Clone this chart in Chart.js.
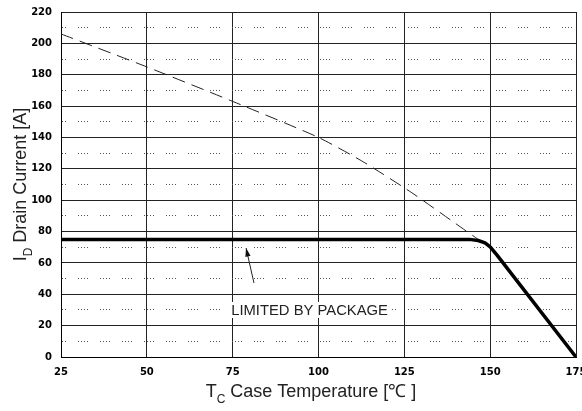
<!DOCTYPE html>
<html><head><meta charset="utf-8">
<script src="https://cdn.jsdelivr.net/npm/chart.js@4/dist/chart.umd.min.js"></script>
<style>html,body{margin:0;padding:0;background:#fff}#c{display:block}</style>
</head><body>
<canvas id="c" width="582" height="411"></canvas>
<script>
// ---- data ----
const xTickValues = [25, 50, 75, 100, 125, 150, 175];
const yTickValues = [0, 20, 40, 60, 80, 100, 120, 140, 160, 180, 200, 220];
const limitedT = [25, 144, 146.5, 148.5, 150, 152, 175];
const limitedI = [75, 75, 74.3, 72.8, 70.2, 65, 0];
const siliconT = [25, 50, 75, 100, 113, 127, 140, 146.5];
const siliconI = [206, 185, 163, 140, 124.5, 105, 85, 75];
const xTitle = ['T', 'C', ' Case Temperature [\u2103 ]'];
const yTitle = ['I', 'D', ' Drain Current [A]'];
const noteText = 'LIMITED BY PACKAGE';
const notePos = [97.4, 30];
const arrowFrom = [81.2, 47.2];
const arrowTo = [78.9, 69.5];

const tickFont = {family: 'DejaVu Sans', size: 10, weight: 'bold'};

function drawSubTitle(ctx, parts) {
  const big = '18px "Liberation Sans", Arial, sans-serif';
  const small = '12px "Liberation Sans", Arial, sans-serif';
  ctx.font = big; const w0 = ctx.measureText(parts[0]).width;
  const w2 = ctx.measureText(parts[2]).width;
  ctx.font = small; const w1 = ctx.measureText(parts[1]).width;
  const total = w0 + w1 + w2;
  let x = -total / 2;
  ctx.fillStyle = '#222'; ctx.textBaseline = 'alphabetic'; ctx.textAlign = 'left';
  ctx.font = big; ctx.fillText(parts[0], x, 0); x += w0;
  ctx.font = small; ctx.fillText(parts[1], x, 6); x += w1;
  ctx.font = big; ctx.fillText(parts[2], x, 0);
}

const titlesPlugin = {
  id: 'titles',
  afterDraw(chart) {
    const ctx = chart.ctx; const a = chart.chartArea;
    ctx.save();
    ctx.translate(311, 397);
    drawSubTitle(ctx, xTitle);
    ctx.restore();
    ctx.save();
    ctx.translate(26, (a.top + a.bottom) / 2);
    ctx.rotate(-Math.PI / 2);
    drawSubTitle(ctx, yTitle);
    ctx.restore();
  }
};

const notePlugin = {
  id: 'note',
  afterDatasetsDraw(chart) {
    const ctx = chart.ctx; const xs = chart.scales.x, ys = chart.scales.y;
    ctx.save();
    ctx.font = '14.8px "Liberation Sans", Arial, sans-serif';
    const tx = xs.getPixelForValue(notePos[0]), ty = ys.getPixelForValue(notePos[1]);
    const w = ctx.measureText(noteText).width;
    ctx.fillStyle = '#fff';
    ctx.fillRect(tx - w / 2 - 2, ty - 8, w + 4, 16);
    ctx.fillStyle = '#222'; ctx.textAlign = 'center'; ctx.textBaseline = 'middle';
    ctx.fillText(noteText, tx, ty + 1);
    // arrow
    const x1 = xs.getPixelForValue(arrowFrom[0]), y1 = ys.getPixelForValue(arrowFrom[1]);
    const x2 = xs.getPixelForValue(arrowTo[0]), y2 = ys.getPixelForValue(arrowTo[1]);
    ctx.strokeStyle = '#222'; ctx.lineWidth = 1;
    ctx.beginPath(); ctx.moveTo(x1, y1); ctx.lineTo(x2, y2); ctx.stroke();
    const ang = Math.atan2(y2 - y1, x2 - x1), L = 9, H = 0.3;
    ctx.fillStyle = '#111';
    ctx.beginPath(); ctx.moveTo(x2, y2);
    ctx.lineTo(x2 - L * Math.cos(ang - H), y2 - L * Math.sin(ang - H));
    ctx.lineTo(x2 - L * Math.cos(ang + H), y2 - L * Math.sin(ang + H));
    ctx.closePath(); ctx.fill();
    ctx.restore();
  }
};

new Chart(document.getElementById('c'), {
  type: 'line',
  data: {
    datasets: [
      {
        data: limitedT.map((t, i) => ({x: t, y: limitedI[i]})),
        borderColor: '#000', borderWidth: 3.5, pointRadius: 0,
        borderJoinStyle: 'round', tension: 0, fill: false
      },
      {
        data: siliconT.map((t, i) => ({x: t, y: siliconI[i]})),
        borderColor: '#222', borderWidth: 1, borderDash: [13, 7], pointRadius: 0,
        tension: 0.2, fill: false
      }
    ]
  },
  options: {
    responsive: false, animation: false, devicePixelRatio: 1,
    layout: {padding: {top: 12, right: 6, left: 0, bottom: 0}},
    plugins: {legend: {display: false}, tooltip: {enabled: false}, title: {display: false}},
    scales: {
      x: {
        type: 'linear', min: 25, max: 175,
        afterBuildTicks: s => { s.ticks = xTickValues.map(v => ({value: v})); },
        ticks: {font: tickFont, color: '#000', padding: 9, maxRotation: 0, autoSkip: false},
        grid: {color: '#222', lineWidth: 1, drawTicks: false},
        border: {color: '#000', width: 1},
        afterFit: s => { s.height = 54; s.paddingLeft = 0; s.paddingRight = 0; }
      },
      y: {
        type: 'linear', min: 0, max: 220,
        afterBuildTicks: s => { s.ticks = yTickValues.map(v => ({value: v})); },
        ticks: {font: tickFont, color: '#000', padding: 9, autoSkip: false},
        grid: {color: '#222', lineWidth: 1, drawTicks: false},
        border: {color: '#000', width: 1},
        afterFit: s => { s.width = 61; s.paddingTop = 0; s.paddingBottom = 0; }
      },
      y2: {
        type: 'linear', min: 0, max: 220, position: 'right',
        ticks: {display: false, stepSize: 10},
        grid: {
          drawTicks: false, lineWidth: 1,
          color: c => (c.tick && Math.round(c.tick.value) % 20 === 10) ? '#555' : 'rgba(0,0,0,0)'
        },
        border: {display: false, dash: [1, 2, 1, 2, 1, 2, 1, 12], dashOffset: 5},
        afterFit: s => { s.width = 0; s.paddingTop = 0; s.paddingBottom = 0; }
      }
    }
  },
  plugins: [titlesPlugin, notePlugin]
});
</script>
</body></html>
